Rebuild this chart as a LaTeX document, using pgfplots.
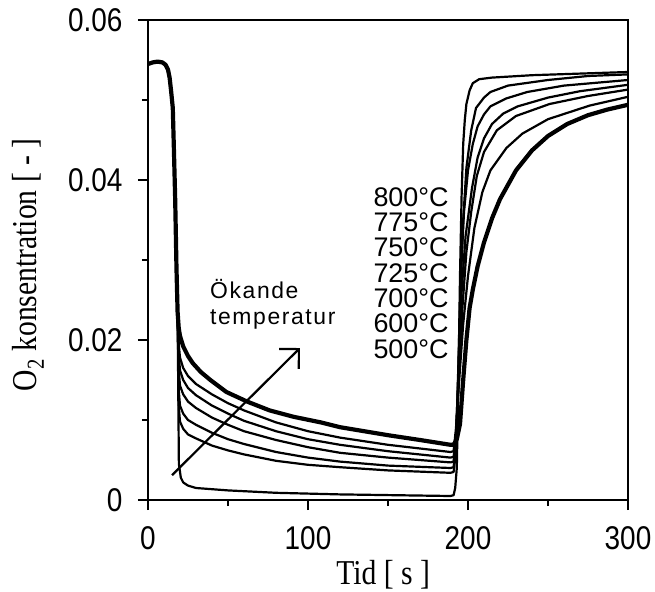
\documentclass[border=0pt]{standalone}
\usepackage{fontspec}
\setmainfont{Liberation Serif}
\newfontfamily\tickfont[FakeStretch=0.85]{Liberation Sans}
\newfontfamily\labelfont[FakeStretch=0.85]{Liberation Serif}
\newfontfamily\annfont{Liberation Sans}
\newfontfamily\spacedfont[LetterSpace=7]{Liberation Sans}
\usepackage{pgfplots}
\pgfplotsset{compat=1.18}
\usetikzlibrary{arrows.meta}
\begin{document}
\begin{tikzpicture}
\begin{axis}[
  width=480bp, height=480bp, scale only axis,
  xmin=0, xmax=300, ymin=0, ymax=0.06,
  xtick={0,100,200,300}, minor xtick={50,150,250},
  ytick={0,0.02,0.04,0.06}, minor ytick={0.01,0.03,0.05},
  tick align=outside, xtick pos=bottom, ytick pos=left,
  major tick length=10bp, minor tick length=6bp,
  every tick/.style={line width=2.5bp, black},
  axis line style={line width=2.5bp},
  tick label style={font=\tickfont\fontsize{33}{33}\selectfont},
  /pgf/number format/assume math mode=true,
  yticklabel style={/pgf/number format/fixed, /pgf/number format/precision=2, xshift=-12bp},
  xticklabel style={yshift=-13bp},
  scaled y ticks=false,
  xlabel={Tid [ s ]},
  ylabel={O\textsubscript{2} konsentration [ - ]},
  label style={font=\labelfont\fontsize{35}{35}\selectfont, inner sep=0pt},
  xlabel style={at={(rel axis cs:0.49,0)}, anchor=north, yshift=-60bp},
  ylabel style={at={(axis description cs:-0.25,0.49)}, anchor=center},
  thin/.style={black, line width=2.2bp, line join=round},
  bold/.style={black, line width=4.2bp, line join=round},
]
\coordinate (ll) at (rel axis cs:0,0);
% 500 C (lowest during reduction, fastest re-oxidation)
\addplot[thin] coordinates {(0,0.0545)(3,0.0547)(6,0.0548)(9,0.0547)(11,0.0544)(12.5,0.0538)(13.5,0.0528)(14.5,0.0510)(15.5,0.0490)(16.3,0.0430)(17,0.0375)(17.8,0.0290)(18.5,0.0235)
 (19.3,0.0045)(20.5,0.0028)(22,0.0022)(25,0.0018)(30,0.0015)(50,0.0012)(80,0.0009)(120,0.0007)(189,0.0005)
 (191,0.0006)(192,0.0015)(193,0.004)(194,0.015)(195,0.028)(196,0.038)(197,0.0445)(198,0.0475)(199,0.0495)(201,0.0512)(203,0.0521)(207,0.0526)(215,0.0528)(240,0.0531)(270,0.0533)(300,0.0535)};
% 600 C
\addplot[thin] coordinates {(0,0.0545)(3,0.0547)(6,0.0548)(9,0.0547)(11,0.0544)(12.5,0.0538)(13.5,0.0528)(14.5,0.0510)(15.5,0.0490)(16.3,0.0430)(17,0.0375)(17.8,0.0290)(18.5,0.0235)
 (19.3,0.0115)(20,0.0098)(22,0.0089)(25,0.0082)(30,0.0077)(40,0.0068)(50,0.0062)(60,0.0057)(80,0.0049)(100,0.0044)(120,0.0041)(150,0.0037)(189,0.0034)
 (191,0.0035)(192.5,0.006)(194,0.016)(195.5,0.027)(197,0.035)(199,0.0415)(202,0.0462)(205,0.0490)(210,0.0503)(214,0.0510)(225,0.0518)(250,0.0525)(275,0.0530)(300,0.0532)};
% 700 C
\addplot[thin] coordinates {(0,0.0545)(3,0.0547)(6,0.0548)(9,0.0547)(11,0.0544)(12.5,0.0538)(13.5,0.0528)(14.5,0.0510)(15.5,0.0490)(16.3,0.0430)(17,0.0375)(17.8,0.0290)(18.5,0.0235)
 (19.3,0.0135)(20,0.0118)(22,0.0108)(25,0.0100)(30,0.0094)(40,0.0084)(50,0.0076)(60,0.0070)(80,0.0060)(100,0.0053)(120,0.0048)(150,0.0043)(189,0.0040)
 (191,0.0041)(192.5,0.007)(194,0.017)(195.5,0.028)(197.5,0.036)(200,0.0412)(203,0.0445)(206,0.0467)(210,0.0482)(214,0.0492)(224,0.0502)(237,0.0510)(260,0.0518)(300,0.0525)};
% 725 C
\addplot[thin] coordinates {(0,0.0545)(3,0.0547)(6,0.0548)(9,0.0547)(11,0.0544)(12.5,0.0538)(13.5,0.0528)(14.5,0.0510)(15.5,0.0490)(16.3,0.0430)(17,0.0375)(17.8,0.0290)(18.5,0.0235)
 (19.3,0.0160)(20,0.0143)(22,0.0132)(25,0.0123)(30,0.0115)(40,0.0103)(50,0.0094)(60,0.0086)(80,0.0075)(100,0.0066)(120,0.0059)(150,0.0053)(189,0.0047)
 (191,0.0048)(192.5,0.008)(194,0.016)(196,0.026)(198.5,0.033)(202.5,0.039)(206,0.0428)(210,0.0452)(215,0.0470)(222,0.0483)(231,0.0492)(250,0.0503)(270,0.0511)(300,0.0519)};
% 750 C
\addplot[thin] coordinates {(0,0.0545)(3,0.0547)(6,0.0548)(9,0.0547)(11,0.0544)(12.5,0.0538)(13.5,0.0528)(14.5,0.0510)(15.5,0.0490)(16.3,0.0430)(17,0.0375)(17.8,0.0290)(18.5,0.0235)
 (19.3,0.0180)(20,0.0162)(22,0.0150)(25,0.0140)(30,0.0131)(40,0.0118)(50,0.0108)(60,0.0099)(80,0.0086)(100,0.0076)(120,0.0069)(150,0.0061)(189,0.0053)
 (191,0.0054)(192.5,0.008)(194.5,0.016)(196.5,0.024)(199,0.031)(202,0.036)(205.5,0.0405)(210,0.0435)(218,0.0462)(230,0.0480)(251,0.0495)(275,0.0505)(300,0.0513)};
% 775 C
\addplot[thin] coordinates {(0,0.0545)(3,0.0547)(6,0.0548)(9,0.0547)(11,0.0544)(12.5,0.0538)(13.5,0.0528)(14.5,0.0510)(15.5,0.0490)(16.3,0.0430)(17,0.0375)(17.8,0.0290)(18.5,0.0235)
 (19.2,0.0195)(20,0.0178)(22,0.0165)(25,0.0155)(30,0.0145)(40,0.0132)(50,0.0121)(60,0.0112)(80,0.0097)(100,0.0086)(120,0.0078)(150,0.0069)(189,0.0060)
 (191,0.0061)(192.5,0.009)(194.5,0.015)(197,0.022)(200,0.028)(204,0.034)(209,0.0385)(214,0.0412)(224,0.0440)(234,0.0458)(250,0.0476)(276,0.0493)(300,0.0504)};
% 800 C (bold)
\addplot[bold] coordinates {(0,0.0545)(3,0.0547)(6,0.0548)(9,0.0547)(11,0.0544)(12.5,0.0538)(13.5,0.0528)(14.5,0.0510)(15.5,0.0490)(16.3,0.0430)(17,0.0375)(17.8,0.0290)(18.5,0.0235)
 (19.2,0.0215)(20,0.0205)(22,0.0192)(25,0.0180)(28,0.0171)(33,0.0160)(39,0.0150)(49,0.0135)(62,0.0123)(76,0.0112)(91,0.0104)(108,0.0097)(120,0.0091)(150,0.0081)(170,0.0075)(189,0.0069)
 (191,0.0069)(193,0.0076)(195,0.0095)(197,0.015)(199,0.020)(201,0.0240)(203,0.0263)(206,0.0292)(210,0.0322)(215,0.0352)(220,0.0376)(230,0.0412)(240,0.0437)(250,0.0455)(262,0.0470)(275,0.0481)(287,0.0488)(300,0.0494)};
% arrow and annotations
\draw[black, line width=2.2bp, -{Straight Barb[length=14bp, width=28bp, line width=2.2bp]}] (axis cs:15,0.0031) -- (axis cs:95,0.019);
\node[anchor=west, inner sep=0pt, font=\spacedfont\fontsize{23}{23}\selectfont] at (axis cs:38.75,0.02635) {Ökande};
\node[anchor=west, inner sep=0pt, font=\spacedfont\fontsize{23}{23}\selectfont] at (axis cs:38.75,0.02255) {temperatur};
\node[anchor=east, inner sep=0pt, font=\annfont\fontsize{27}{27}\selectfont] at (axis cs:188,0.03788) {800°C};
\node[anchor=east, inner sep=0pt, font=\annfont\fontsize{27}{27}\selectfont] at (axis cs:188,0.03471) {775°C};
\node[anchor=east, inner sep=0pt, font=\annfont\fontsize{27}{27}\selectfont] at (axis cs:188,0.03155) {750°C};
\node[anchor=east, inner sep=0pt, font=\annfont\fontsize{27}{27}\selectfont] at (axis cs:188,0.02839) {725°C};
\node[anchor=east, inner sep=0pt, font=\annfont\fontsize{27}{27}\selectfont] at (axis cs:188,0.02523) {700°C};
\node[anchor=east, inner sep=0pt, font=\annfont\fontsize{27}{27}\selectfont] at (axis cs:188,0.02206) {600°C};
\node[anchor=east, inner sep=0pt, font=\annfont\fontsize{27}{27}\selectfont] at (axis cs:188,0.01890) {500°C};
\end{axis}
\pgfresetboundingbox
\path (ll) ++(-148bp,-92bp) rectangle ++(655bp,592bp);
\end{tikzpicture}
\end{document}
